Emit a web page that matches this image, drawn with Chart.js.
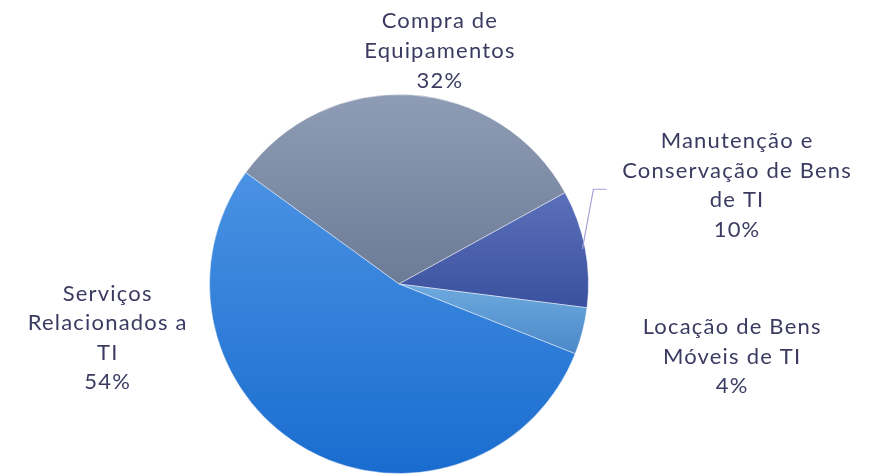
<!DOCTYPE html>
<html>
<head>
<meta charset="utf-8">
<script src="https://cdn.jsdelivr.net/npm/chart.js@4"></script>
<style>
  html, body { margin: 0; padding: 0; background: #ffffff; }
  #wrap { width: 883px; height: 475px; }
</style>
</head>
<body>
<div id="wrap"><canvas id="pie" width="883" height="475"></canvas></div>
<script>
// data
var labels = [
  ["Compra de", "Equipamentos"],
  ["Manutenção e", "Conservação de Bens", "de TI"],
  ["Locação de Bens", "Móveis de TI"],
  ["Serviços", "Relacionados a", "TI"]
];
var values = [32, 10, 4, 54];

// top / bottom colour of each slice gradient
var topColors = ["#8f9cb5", "#5b70ba", "#6eaadf", "#4a92e3"];
var bottomColors = ["#6c7b96", "#3a519f", "#4a88c8", "#196ccf"];

// label block position, in units of the radius from the centre
var labelPos = [[0.216, -1.23], [1.784, -0.52], [1.758, 0.384], [-1.537, 0.284]];

var ROTATION = -54;
var FONT = '22px "Lato", sans-serif';
var TEXT = "#3b3b62";

// vertical extent of slice i, worked out from the chart area like the pie controller does
var sliceYRange = function(chart, i) {
  var a = chart.chartArea;
  var cy = (a.top + a.bottom) / 2;
  var R = Math.min(a.right - a.left, a.bottom - a.top) / 2;
  var total = values.reduce(function(s, v) { return s + v; }, 0);
  var start = (ROTATION - 90) * Math.PI / 180;
  for (var k = 0; k < i; k++) start += values[k] / total * Math.PI * 2;
  var end = start + values[i] / total * Math.PI * 2;
  var lo = cy, hi = cy;
  for (var s = 0; s <= 80; s++) {
    var y = cy + R * Math.sin(start + (end - start) * s / 80);
    if (y < lo) lo = y;
    if (y > hi) hi = y;
  }
  return [lo, hi];
};

var sliceFill = function(ctx) {
  var chart = ctx.chart;
  if (!chart.chartArea) return topColors[ctx.dataIndex];
  var r = sliceYRange(chart, ctx.dataIndex);
  var g = chart.ctx.createLinearGradient(0, r[0], 0, r[1]);
  g.addColorStop(0, topColors[ctx.dataIndex]);
  g.addColorStop(1, bottomColors[ctx.dataIndex]);
  return g;
};

var outsideLabels = {
  id: 'outsideLabels',
  afterDraw: function(chart) {
    var c = chart.ctx;
    var arcs = chart.getDatasetMeta(0).data;
    var total = values.reduce(function(a, b) { return a + b; }, 0);
    c.save();
    // leader line for the small dark slice
    var m = arcs[1];
    var R = m.outerRadius;
    var mid = (m.startAngle + m.endAngle) / 2;
    c.strokeStyle = "#a3a3d6";
    c.lineWidth = 1.2;
    c.beginPath();
    c.moveTo(m.x + R * 0.985 * Math.cos(mid), m.y + R * 0.985 * Math.sin(mid));
    c.lineTo(m.x + R * 1.026, m.y - R * 0.5);
    c.lineTo(m.x + R * 1.095, m.y - R * 0.5);
    c.stroke();

    c.font = FONT;
    c.letterSpacing = "1.2px";
    c.fillStyle = TEXT;
    c.textAlign = "center";
    c.textBaseline = "middle";
    var lh = 29.6;
    arcs.forEach(function(arc, i) {
      var lines = labels[i].concat([Math.round(values[i] / total * 100) + "%"]);
      var bx = arc.x + arc.outerRadius * labelPos[i][0];
      var by = arc.y + arc.outerRadius * labelPos[i][1];
      var y0 = by - (lines.length - 1) * lh / 2;
      lines.forEach(function(t, k) {
        c.fillText(t, bx, y0 + k * lh);
      });
    });
    c.restore();
  }
};

new Chart(document.getElementById('pie'), {
  type: 'pie',
  data: {
    labels: labels,
    datasets: [{
      data: values,
      backgroundColor: sliceFill,
      borderColor: "rgba(255,255,255,0.45)",
      borderWidth: 1
    }]
  },
  options: {
    responsive: false,
    animation: false,
    rotation: ROTATION,
    layout: { padding: { top: 94, bottom: 1, left: 0, right: 85 } },
    plugins: {
      legend: { display: false },
      tooltip: { enabled: false }
    }
  },
  plugins: [outsideLabels]
});
</script>
</body>
</html>
